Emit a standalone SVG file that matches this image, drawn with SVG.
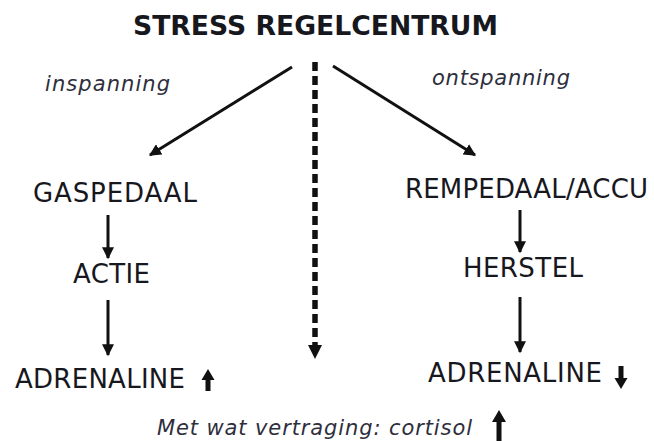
<svg xmlns="http://www.w3.org/2000/svg" width="654" height="441" viewBox="0 0 654 441">
  <defs>
    <marker id="ah" viewBox="0 0 10 10" refX="9" refY="5" markerWidth="4" markerHeight="4" orient="auto" markerUnits="strokeWidth">
      <path d="M0,0 L10,5 L0,10 z" fill="#111"/>
    </marker>
  </defs>
  <style>
    .lbl { font-family: "DejaVu Sans", Verdana, "Liberation Sans", sans-serif; font-size: 26px; fill: #17171e; }
    .ttl { font-weight: bold; }
    .it { font-family: "DejaVu Sans", Verdana, "Liberation Sans", sans-serif; font-size: 21px; font-style: italic; fill: #2e2e3c; }
    .arr { stroke: #111; stroke-width: 3; fill: none; marker-end: url(#ah); }
    .dash { stroke: #111; stroke-width: 5.5; stroke-dasharray: 9 5; fill: none; }
    .head { fill: #111; }
  </style>
  <rect width="654" height="441" fill="#ffffff"/>

  <g id="title"><text class="lbl ttl" x="133" y="35" textLength="365" lengthAdjust="spacingAndGlyphs">STRESS REGELCENTRUM</text></g>
  <g id="inspanning"><text class="it" x="45" y="91" textLength="125">inspanning</text></g>
  <g id="ontspanning"><text class="it" x="432" y="85" textLength="138">ontspanning</text></g>
  <g id="gaspedaal"><text class="lbl" x="33" y="202" textLength="164">GASPEDAAL</text></g>
  <g id="actie"><text class="lbl" x="73" y="283" textLength="77">ACTIE</text></g>
  <g id="adrenaline-up"><text class="lbl" x="15" y="388" textLength="170">ADRENALINE</text></g>
  <g id="rempedaal"><text class="lbl" x="405" y="198" textLength="243">REMPEDAAL/ACCU</text></g>
  <g id="herstel"><text class="lbl" x="463" y="277" textLength="120">HERSTEL</text></g>
  <g id="adrenaline-down"><text class="lbl" x="428" y="382" textLength="174">ADRENALINE</text></g>
  <g id="cortisol"><text class="it" x="157" y="435" textLength="315">Met wat vertraging: cortisol</text></g>

  <g id="connectors">
    <line class="arr" x1="292" y1="67" x2="150" y2="155"/>
    <line class="arr" x1="333" y1="66" x2="475" y2="155"/>
    <line class="dash" x1="315" y1="62" x2="315" y2="347"/>
    <polygon class="head" points="308,345 322,345 315,359"/>
    <line class="arr" x1="108" y1="215" x2="108" y2="258"/>
    <line class="arr" x1="108" y1="300" x2="108" y2="355"/>
    <line class="arr" x1="520" y1="210" x2="520" y2="252"/>
    <line class="arr" x1="520" y1="297" x2="520" y2="352"/>
    <polygon class="head" points="208,369 214.5,380 210.5,380 210.5,391 205.5,391 205.5,380 201.5,380"/>
    <polygon class="head" points="621,389 627.5,378 623.5,378 623.5,366 618.5,366 618.5,378 614.5,378"/>
    <polygon class="head" points="499,410 506,422 501.5,422 501.5,441 496.5,441 496.5,422 492,422"/>
  </g>
</svg>
